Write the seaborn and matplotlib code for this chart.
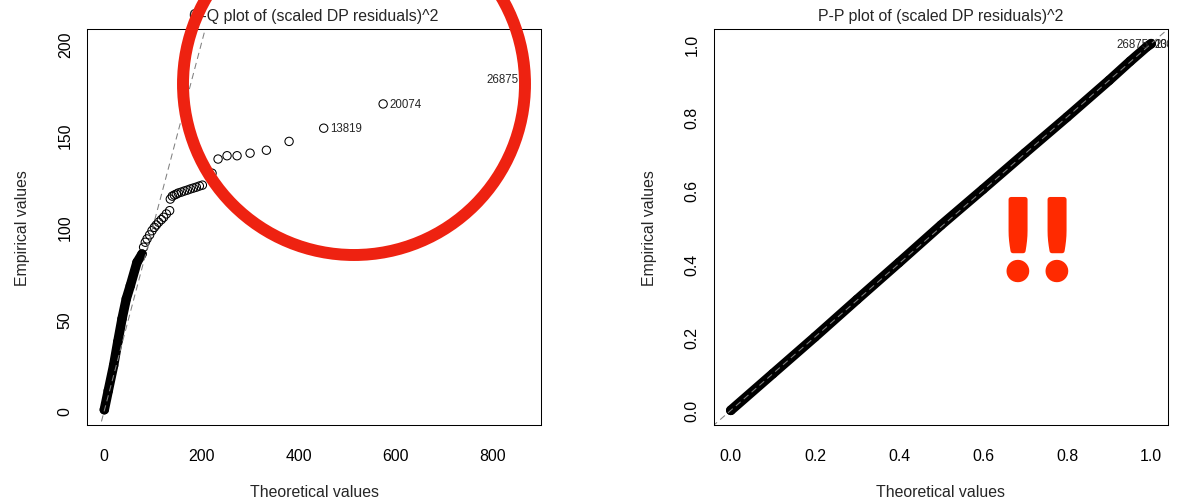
import matplotlib
matplotlib.use("Agg")
import matplotlib.pyplot as plt
from matplotlib.patches import Ellipse
from matplotlib import font_manager
import matplotlib.patheffects as pe
import seaborn as sns
import pandas as pd

# Q-Q plot: theoretical vs empirical quantiles of the squared scaled residuals
qq_theo_dense = [0.0, 8.2, 19.2, 27.8, 36.5, 45.3, 53.6, 67.4, 77.7]
qq_emp_dense = [0.5, 10.9, 24.6, 37.5, 50.0, 60.9, 68.1, 80.8, 85.3]

qq_theo_chain = [80.9, 84.4, 88.0, 93.3, 98.2, 103.0, 107.1, 111.8, 117.4, 122.1, 127.7, 134.5]
qq_emp_chain = [89.0, 91.7, 93.5, 95.7, 98.0, 99.8, 101.1, 102.6, 104.0, 105.3, 107.1, 108.9]

qq_theo_cluster = [135.9, 140.0, 144.2, 148.3, 152.4, 158.6, 164.8, 171.0, 177.1, 183.3, 189.5, 195.7, 201.9]
qq_emp_cluster = [115.2, 116.8, 117.4, 117.9, 118.5, 119.0, 119.6, 120.1, 120.7, 121.2, 121.7, 122.3, 122.8]

qq_theo_tail = [221.8, 234.2, 252.7, 273.3, 300.1, 333.7, 380.4, 451.7, 574.0, 865.1]
qq_emp_tail = [129.3, 137.0, 138.8, 138.8, 140.2, 141.8, 146.6, 153.8, 167.0, 180.4]

# labelled observations (theoretical, empirical, id, side)
qq_labels = [(451.7, 153.8, "13819", "right"),
             (574.0, 167.0, "20074", "right"),
             (865.1, 180.4, "26875", "left")]

# P-P plot: theoretical vs empirical probabilities
pp_theo = [0.0, 0.1, 0.2, 0.3, 0.4, 0.5, 0.6, 0.7, 0.8, 0.9, 0.95, 0.99, 1.0]
pp_emp = [0.0, 0.1, 0.2, 0.302, 0.403, 0.505, 0.603, 0.702, 0.8, 0.9, 0.952, 0.992, 1.0]
pp_labels = [(1.0, 1.0, "26875", "left"),
             (0.99996, 0.99993, "20074", "right"),
             (0.99995, 0.99990, "13819", "right")]

qq_xticks = [0, 200, 400, 600, 800]
qq_yticks = [0, 50, 100, 150, 200]
pp_ticks = [0.0, 0.2, 0.4, 0.6, 0.8, 1.0]
pp_ticklabels = ["0.0", "0.2", "0.4", "0.6", "0.8", "1.0"]

sns.set_theme(style="white")
plt.rcParams["font.family"] = ["Liberation Sans", "DejaVu Sans"]
plt.rcParams["font.size"] = 11.4

W, H = 1182, 502
fig = plt.figure(figsize=(W / 100, H / 100), dpi=100)
fig.patch.set_facecolor("white")

FS = 11.4
LAB_FS = 8.3
circ = dict(marker="o", facecolor="none", edgecolor="black", linewidth=0.75, s=36)


def frame(ax):
    for sp in ax.spines.values():
        sp.set_visible(True)
        sp.set_color("black")
        sp.set_linewidth(0.75)
    ax.tick_params(axis="both", direction="out", length=7.2, width=0.75,
                   colors="black", labelsize=FS)
    ax.tick_params(axis="x", pad=9.5)
    ax.tick_params(axis="y", pad=3)
    for lab in ax.get_yticklabels():
        lab.set_rotation(90)
        lab.set_va("center")
    ax.grid(False)


def label_points(ax, labels, off):
    for x, y, txt, side in labels:
        if side == "right":
            ax.annotate(txt, (x, y), xytext=(off, 0), textcoords="offset pixels",
                        ha="left", va="center", fontsize=LAB_FS, annotation_clip=False,
                        clip_on=True)
        else:
            ax.annotate(txt, (x, y), xytext=(-off, 0), textcoords="offset pixels",
                        ha="right", va="center", fontsize=LAB_FS, clip_on=True)


# ---- Q-Q panel ----
ax1 = fig.add_axes([87 / W, 1 - 426 / H, (541 - 87) / W, (426 - 30) / H])
qq_all = pd.DataFrame({
    "theo": qq_theo_dense + qq_theo_chain + qq_theo_cluster + qq_theo_tail,
    "emp": qq_emp_dense + qq_emp_chain + qq_emp_cluster + qq_emp_tail,
})
dense = pd.DataFrame({"theo": qq_theo_dense, "emp": qq_emp_dense})
sns.lineplot(data=dense, x="theo", y="emp", sort=False, estimator=None, ax=ax1,
             color="black", linewidth=6.8, solid_capstyle="round")
sns.scatterplot(data=qq_all, x="theo", y="emp", ax=ax1, **circ)
ax1.set_xlim(-35.6, 899)
ax1.set_ylim(-7.8, 207.8)
ax1.plot([-50, 950], [-50, 950], color="#808080", lw=0.75, ls=(0, (6, 4)))
label_points(ax1, qq_labels, 6)
ax1.set_xticks(qq_xticks)
ax1.set_yticks(qq_yticks)
ax1.set_xticklabels([str(v) for v in qq_xticks])
ax1.set_yticklabels([str(v) for v in qq_yticks])
frame(ax1)
ax1.set_title("Q-Q plot of (scaled DP residuals)^2", fontsize=FS, pad=6.5)
ax1.set_xlabel("Theoretical values", fontsize=FS, labelpad=15)
ax1.set_ylabel("Empirical values", fontsize=FS, labelpad=20)

# ---- P-P panel ----
ax2 = fig.add_axes([714 / W, 1 - 426 / H, (1168 - 714) / W, (426 - 30) / H])
pp = pd.DataFrame({"theo": pp_theo, "emp": pp_emp})
sns.lineplot(data=pp, x="theo", y="emp", sort=False, estimator=None, ax=ax2,
             color="black", linewidth=7.0, solid_capstyle="round")
sns.scatterplot(data=pp, x="theo", y="emp", ax=ax2, **circ)
ax2.set_xlim(-0.04, 1.04)
ax2.set_ylim(-0.04, 1.04)
ax2.plot([-0.1, 1.1], [-0.1, 1.1], color="#808080", lw=0.75, ls=(0, (6, 4)))
label_points(ax2, pp_labels, 3)
ax2.set_xticks(pp_ticks)
ax2.set_yticks(pp_ticks)
ax2.set_xticklabels(pp_ticklabels)
ax2.set_yticklabels(pp_ticklabels)
frame(ax2)
ax2.set_title("P-P plot of (scaled DP residuals)^2", fontsize=FS, pad=6.5)
ax2.set_xlabel("Theoretical values", fontsize=FS, labelpad=15)
ax2.set_ylabel("Empirical values", fontsize=FS, labelpad=20)

# ---- emphasis: red ring over the Q-Q tail, exclamation marks on the P-P panel ----
RED = "#FF2A00"
ring = Ellipse((354 / W, 1 - 85 / H), 2 * 171 / W, 2 * 171 / H, transform=fig.transFigure,
               fill=False, edgecolor="#EE2211", linewidth=8.6, zorder=20)
fig.add_artist(ring)
bang_font = font_manager.FontProperties(family=["Lato", "Liberation Sans"], weight=900, size=79)
for xc in (1018, 1057):
    fig.text(xc / W, 1 - 280 / H, "!", color=RED, fontproperties=bang_font,
             ha="center", va="baseline", zorder=20,
             path_effects=[pe.withStroke(linewidth=3.5, foreground=RED, joinstyle="round")])

fig.savefig("out.png", dpi=100, facecolor="white")
